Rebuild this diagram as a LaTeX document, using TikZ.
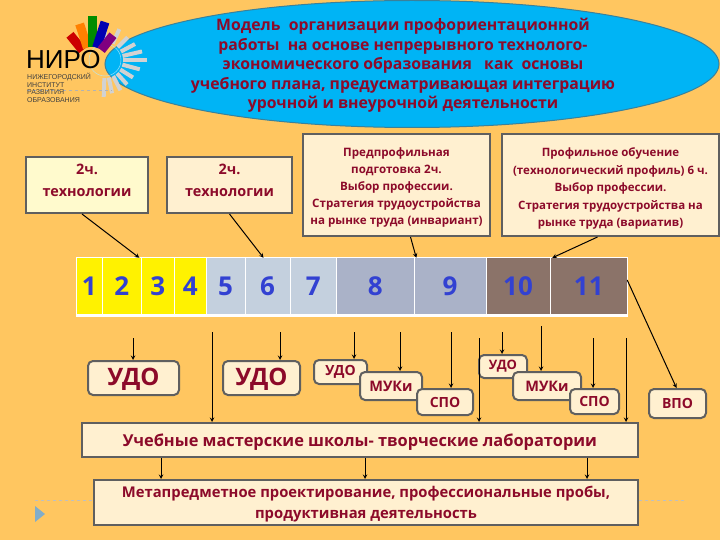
\documentclass[tikz,border=0pt]{standalone}
\usepackage{fontspec}
\setmainfont{Open Sans}
\newfontfamily\logofont{Liberation Sans}
\usetikzlibrary{positioning, calc, arrows.meta, shapes.geometric}
\definecolor{page}{RGB}{255, 198, 96}
\definecolor{sky}{RGB}{0, 180, 245}
\definecolor{wine}{RGB}{140, 10, 42}
\definecolor{edge}{RGB}{95, 95, 95}
\definecolor{cream}{RGB}{255, 240, 208}
\definecolor{pale}{RGB}{255, 250, 205}
\definecolor{digit}{RGB}{50, 65, 210}
\definecolor{cellb}{RGB}{196, 208, 222}
\definecolor{cellc}{RGB}{170, 178, 200}
\definecolor{celld}{RGB}{139, 115, 105}
\newcommand{\fsz}[1]{\fontsize{#1}{1.3\dimexpr #1pt\relax}\selectfont}

\begin{document}
\begin{tikzpicture}[x=1pt, y=-1pt, every node/.style={font=\bfseries, text=wine, align=center, inner sep=0pt}]
    \tikzstyle{block} = [draw=edge, rectangle, fill=cream, line width=2pt]
    \tikzstyle{tag} = [block, rounded corners=5pt]
    \tikzstyle{cell} = [rectangle, minimum height=56pt, text=digit, font=\bfseries\fsz{26}]
    \tikzstyle{arrow} = [line width=1pt, ->, >=stealth, draw=black]

    \useasboundingbox (0,0) rectangle (720,540);
    \fill [page] (0,0) rectangle (720,540);

    % Title
    \node (oval) [ellipse, draw=edge!60!sky, fill=sky, line width=1pt, minimum width=614pt, minimum height=127pt] at (412,64) {};
    \node (title) [font=\bfseries\fontsize{15.8}{19.4}\selectfont] at (403,65.5) {Модель\ \ организации профориентационной\\работы\ \ на основе непрерывного технолого-\\экономического образования\ \ \ как\ \ основы\\учебного плана, предусматривающая интеграцию\\урочной и внеурочной деятельности};

    % Logo
    \coordinate (sun) at (105,60);
    \coordinate (fan) at (92,62);
    \foreach \ang/\len in {-90/37, -65/34, -45/32, -28/34, -13/38, 0/42, 15/36, 32/33, 48/33, 63/34, 78/34, 92/37}
        \draw [line width=4pt, gray!35!white] ($(sun)+(\ang:18)$) -- ($(sun)+(\ang:\len)$);
    \draw [thin, white!70!sky] (sun) circle (16);
    \foreach \ang/\len/\col in {-129/35/red!80!black, -108/40/orange, -90/46/green!55!black, -72/42/blue!70!black, -52/34/violet}
        \draw [line width=9pt, \col] ($(fan)+(\ang:15)$) -- ($(fan)+(\ang:\len)$);
    \draw [dashed, gray!60, very thin] (27,90) -- (112,90);
    \node (niro) [font=\logofont\fsz{26}, text=black, anchor=west] at (26,59.5) {НИРО};
    \node (niroa) [font=\logofont\fsz{7}, text=black!75, anchor=west] at (27,77) {НИЖЕГОРОДСКИЙ};
    \node (nirob) [font=\logofont\fsz{7}, text=black!75, anchor=west] at (27,85) {ИНСТИТУТ};
    \node (niroc) [font=\logofont\fsz{7}, text=black!75, anchor=west] at (27,92.5) {РАЗВИТИЯ};
    \node (nirod) [font=\logofont\fsz{7}, text=black!75, anchor=west] at (27,100) {ОБРАЗОВАНИЯ};

    % Upper boxes
    \node (boxa) [block, fill=pale, minimum width=122pt, minimum height=56pt, text depth=9pt, font=\bfseries\fsz{14.4}] at (87,185) {2ч.\\[3pt]технологии};
    \node (boxb) [block, minimum width=125pt, minimum height=56pt, text depth=9pt, font=\bfseries\fsz{14.4}] at (229.5,185) {2ч.\\[3pt]технологии};
    \node (boxc) [block, minimum width=187pt, minimum height=102pt, font=\bfseries\fsz{11.6}] at (396.5,185) {\rule{0pt}{14pt}Предпрофильная\\[2pt]подготовка 2ч.\\[2pt]Выбор профессии.\\[2pt]Стратегия трудоустройства\\[2pt]на рынке труда (инвариант)};
    \node (boxd) [block, minimum width=217pt, minimum height=102pt, font=\bfseries\fsz{11.5}] at (610.5,185) {\rule{0pt}{16pt}Профильное обучение\\[2.5pt](технологический профиль) 6 ч.\\[2.5pt]Выбор профессии.\\[2.5pt]Стратегия трудоустройства на\\[2.5pt]рынке труда (вариатив)};

    % Grades
    \fill [white] (75.5,257) rectangle (627.5,317);
    \foreach \n/\xa/\xb/\col in {1/76.5/102/yellow, 2/103/140.5/yellow, 3/141.5/174/yellow, 4/175/205.5/yellow, 5/206.5/244.5/cellb, 6/245.5/289.5/cellb, 7/290.5/336/cellb, 8/337/413.5/cellc, 9/414.5/485.5/cellc, 10/486.5/549.5/celld, 11/550.5/627/celld}
        \node (cell\n) [cell, fill=\col, minimum width={\xb-\xa}] at ({(\xa+\xb)/2},286) {\n};

    % Lower boxes
    \node (udoa) [tag, minimum width=91pt, minimum height=34pt, text height=20pt, font=\bfseries\fsz{24}] at (133.5,378) {УДО};
    \node (udob) [tag, minimum width=77pt, minimum height=34pt, text height=20pt, font=\bfseries\fsz{24}] at (261.5,378) {УДО};
    \node (udoc) [tag, minimum width=53pt, minimum height=24pt, font=\bfseries\fsz{14}] at (340.5,372) {УДО};
    \node (mukia) [tag, minimum width=62pt, minimum height=28pt, font=\bfseries\fsz{14.5}] at (391,386) {МУКи};
    \node (spoa) [tag, minimum width=56pt, minimum height=26pt, font=\bfseries\fsz{14}] at (445,402) {СПО};
    \node (udod) [tag, minimum width=48pt, minimum height=23pt, font=\bfseries\fsz{13}] at (503,366.5) {УДО};
    \node (mukib) [tag, minimum width=68pt, minimum height=28pt, font=\bfseries\fsz{14.5}] at (547,386) {МУКи};
    \node (spob) [tag, minimum width=49pt, minimum height=25pt, font=\bfseries\fsz{14}] at (594.5,401.5) {СПО};
    \node (vpo) [tag, minimum width=57pt, minimum height=29pt, font=\bfseries\fsz{14}] at (677.5,403.5) {ВПО};
    \node (labs) [block, minimum width=556pt, minimum height=34pt, font=\bfseries\fsz{16.4}] at (360,440) {\rule{0pt}{16pt}Учебные мастерские школы- творческие лаборатории};
    \node (meta) [block, minimum width=544pt, minimum height=45pt, font=\bfseries\fsz{14.8}] at (366,502.5) {\rule{0pt}{15pt}Метапредметное проектирование, профессиональные пробы,\\[2pt]продуктивная деятельность};

    % Free ends
    \coordinate (fa) at (133,338);
    \coordinate (fb) at (212,332);
    \coordinate (fc) at (280,332);
    \coordinate (fd) at (354,332);
    \coordinate (fe) at (400,332);
    \coordinate (ff) at (451,332);
    \coordinate (fg) at (479,338);
    \coordinate (fh) at (502,332);
    \coordinate (fi) at (541,326);
    \coordinate (fj) at (593,338);
    \coordinate (fk) at (626,338);

    % Arrows
    \draw [arrow] ([xshift=-5pt]boxa.south) -- ([xshift=-2pt]cell3.north west);
    \draw [arrow] (boxb.south) -- ([xshift=-4pt]cell6.north);
    \draw [arrow] ([xshift=14pt]boxc.south) -- ([xshift=2pt]cell9.north west);
    \draw [arrow] ([xshift=-13pt]boxd.south) -- ([xshift=2pt]cell11.north west);
    \draw [arrow] (fa) -- (fa |- udoa.north);
    \draw [arrow] (fb) -- (fb |- labs.north);
    \draw [arrow] (fc) -- (fc |- udob.north);
    \draw [arrow] (fd) -- (fd |- udoc.north);
    \draw [arrow] (fe) -- (fe |- mukia.north);
    \draw [arrow] (ff) -- (ff |- spoa.north);
    \draw [arrow] (fg) -- (fg |- labs.north);
    \draw [arrow] (fh) -- (fh |- udod.north);
    \draw [arrow] (fi) -- (fi |- mukib.north);
    \draw [arrow] (fj) -- (fj |- spob.north);
    \draw [arrow] (fk) -- (fk |- labs.north);
    \draw [arrow] ([yshift=6pt]cell11.east) -- ([xshift=-1pt]vpo.north);
    \draw [arrow] ([xshift=-199pt]labs.south) -- ([xshift=-205pt]meta.north);
    \draw [arrow] ([xshift=5pt]labs.south) -- ([xshift=-1pt]meta.north);
    \draw [arrow] ([xshift=227pt]labs.south) -- ([xshift=221pt]meta.north);

    % Slide marks
    \draw [dashed, gray!50, thin] (35,500) -- (meta.west |- 0,500);
    \draw [dashed, gray!50, thin] (meta.east |- 0,500) -- (686,500);
    \fill [blue!40!cyan!40!gray!70] (35,506) -- (45,514) -- (35,522) -- cycle;
\end{tikzpicture}
\end{document}
